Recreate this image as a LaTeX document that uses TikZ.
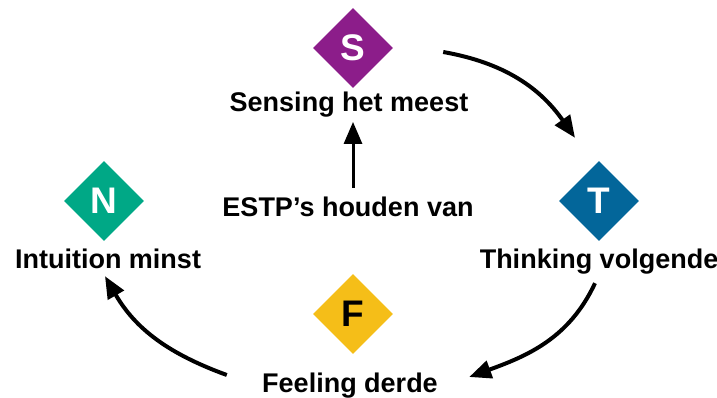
\documentclass[tikz,border=0pt]{standalone}
\usepackage{fontspec}
\setmainfont{Liberation Sans}
\usepackage{tikz}
\usetikzlibrary{shapes.geometric, arrows.meta, calc}
\definecolor{s}{HTML}{8C1D8A}
\definecolor{t}{HTML}{03669A}
\definecolor{n}{HTML}{00A886}
\definecolor{f}{HTML}{F5BE18}

\begin{document}
\begin{tikzpicture}[x=1pt, y=1pt,
  letter/.style={diamond, minimum width=80pt, minimum height=80pt, inner sep=0pt,
    font=\fontsize{37}{42}\selectfont\bfseries},
  caption/.style={anchor=base, inner sep=0pt, font=\fontsize{27}{32}\selectfont\bfseries},
  flow/.style={-{Triangle[length=22pt, width=18pt]}, line width=4pt}]
\useasboundingbox (0,0) rectangle (717,398);

% the four letters
\node[letter, fill=s, text=white] (S) at (353,350) {S};
\node[letter, fill=t, text=white] (T) at (599,197) {T};
\node[letter, fill=n, text=white] (N) at (104,197) {N};
\node[letter, fill=f, text=black] (F) at (353,84) {F};

% captions
\node[caption] (sensing) at (349,286) {Sensing het meest};
\node[caption] (estp) at (348,181.5) {ESTP’s houden van};
\node[caption] (thinking) at (599,129) {Thinking volgende};
\node[caption] (intuition) at (108,129) {Intuition minst};
\node[caption] (feeling) at (350,5) {Feeling derde};

% ends of the arcs
\coordinate (st-a) at ($(S.east)+(50,-4)$);
\coordinate (st-b) at ($(T.north)+(-24,23)$);
\coordinate (tf-a) at ($(T.south)+(-4,-42)$);
\coordinate (tf-b) at ($(F.east)+(76,-63)$);
\coordinate (fn-a) at ($(F.west)+(-86,-61)$);
\coordinate (fn-b) at ($(N.south)+(1,-35)$);

\draw[flow, line width=3pt, shorten <=9pt, shorten >=4pt]
  (estp.north -| S.south) -- (sensing.south -| S.south);
\draw[flow] (st-a) to[out=-10, in=125] (st-b);
\draw[flow] (tf-a) to[out=-115, in=20] (tf-b);
\draw[flow] (fn-a) to[out=160, in=-60] (fn-b);

\end{tikzpicture}
\end{document}
